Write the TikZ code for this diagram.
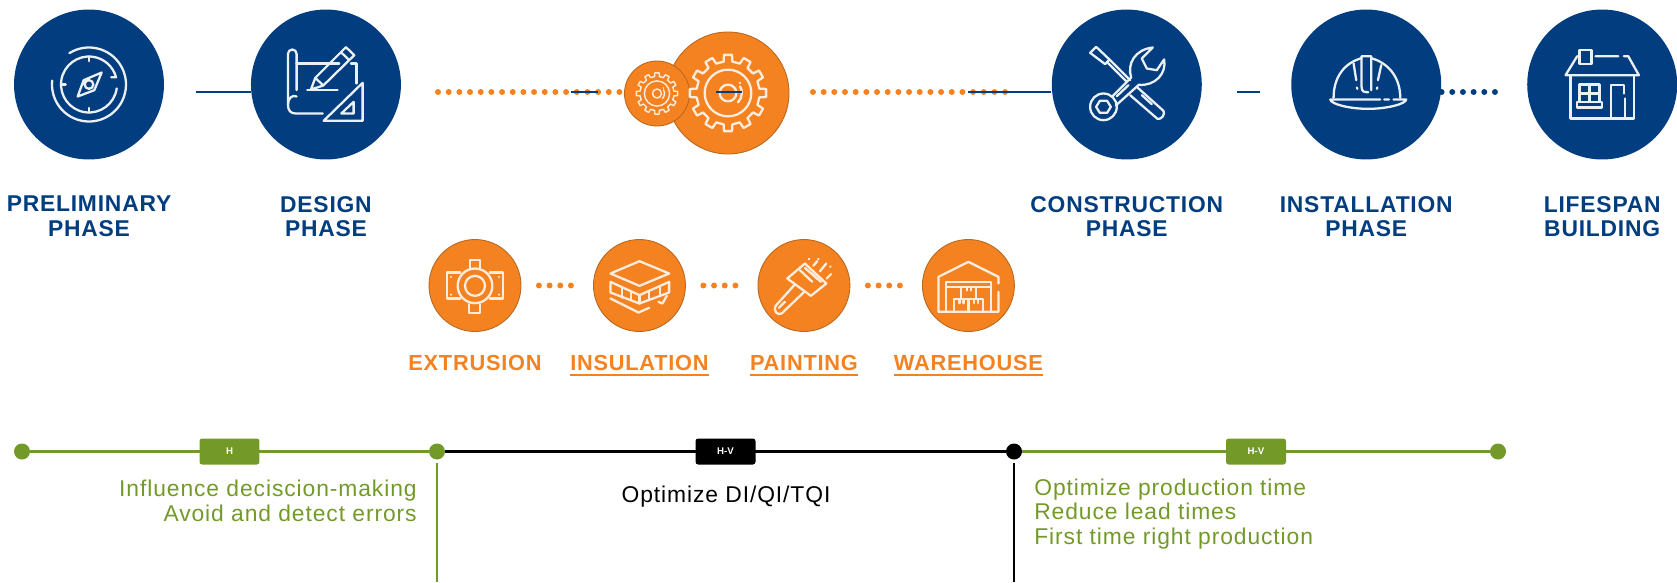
\documentclass[tikz,border=0pt]{standalone}
\usepackage{fontspec}
\setmainfont{Liberation Sans}
\newfontfamily\phasefont[LetterSpace=3.5]{Liberation Sans}
\newfontfamily\bodyfont[LetterSpace=4]{Liberation Sans}
\newcommand{\stageline}[1]{\setbox0=\hbox{#1}\rlap{\rule[-3pt]{\wd0}{1.2pt}}\box0}
\definecolor{navy}{HTML}{023E7F}
\definecolor{burnt}{HTML}{F58220}
\definecolor{burntedge}{HTML}{B8691F}
\definecolor{leaf}{HTML}{739A28}
\tikzstyle{phase} = [circle, minimum size=3cm, inner sep=0, fill=navy]
\tikzstyle{stage} = [circle, minimum size=1.84cm, inner sep=0, fill=burnt, draw=burntedge, line width=0.5pt]
\tikzstyle{phaselabel} = [align=center, text=navy, font=\phasefont\bfseries\fontsize{13}{14}\selectfont]
\tikzstyle{stagelabel} = [text=burnt, text height=9pt, text depth=3pt, inner sep=0, font=\phasefont\bfseries\fontsize{12.4}{14}\selectfont]
\tikzstyle{bluedash} = [navy, line width=1.2pt]
\tikzstyle{dots} = [line width=3.4pt, line cap=round, dash pattern=on 0pt off 0.2135cm]
\tikzstyle{point} = [circle, minimum size=0.32cm, inner sep=0]
\tikzstyle{tagbox} = [rectangle, rounded corners=1.5pt, minimum width=1.2cm, minimum height=0.52cm, inner sep=0, text=white, font=\bfseries\fontsize{5.5}{6}\selectfont]
\tikzstyle{note} = [font=\bodyfont\fontsize{13}{14}\selectfont, inner sep=0]
\tikzstyle{lineW} = [draw=white!92!navy, line width=1.3pt, line join=round, line cap=round]
\tikzstyle{lineC} = [draw=white!85!burnt, line width=1.3pt, line join=round, line cap=round]
\tikzset{
  pics/compass/.style={code={
    \draw[lineW] (238:111) arc[start angle=238, end angle=546, radius=111];
    \draw[lineW] (8:84) arc[start angle=8, end angle=345, radius=84] -- ++(-14,0);
    \draw[lineW] (0,-84) -- (0,-70) (0,84) -- (0,70) (-84,0) -- (-70,0);
    \draw[lineW] (38,-36) -- (-16,-13) -- (-34,36) -- (16,17) -- cycle (0,0) circle[radius=13];
  }},
  pics/blueprint/.style={code={
    \draw[lineW] (-88,17) -- (-88,-92) arc[start angle=0, end angle=-180, radius=13] -- (-114,60) .. controls (-114,80) and (-105,87) .. (-90,87) -- (-10,87);
    \draw[lineW] (-114,60) .. controls (-114,40) and (-100,30) .. (-88,36);
    \draw[lineW] (-88,-63) -- (40,-63) (75,-63) -- (92,-63) -- (92,-3);
    \draw[lineW] (-45,15) -- (-32,-20) -- (60,-112) -- (85,-88) -- (-8,3) -- cycle (-32,-20) -- (-8,3) (45,-97) -- (70,-73);
    \draw[lineW] (-56,17) -- (35,17);
    \draw[lineW] (-7,109) -- (110,109) -- (110,-5) -- cycle (46,87) -- (83,87) -- (83,52) -- cycle;
  }},
  pics/gearicon/.style={code={
    \draw[#1] (-8:95) \foreach \a in {0,30,...,330}{ -- ({\a-8}:95) -- ({\a-6}:115) -- ({\a+6}:115) -- ({\a+8}:95) } -- cycle;
    \draw[#1] (0,0) circle[radius=70] (0,0) circle[radius=25];
    \draw[#1] (30,28) .. controls (44,15) and (44,-10) .. (36,-20) (36,-30) -- (36,-31);
  }},
  pics/toolsicon/.style={code={
    \begin{scope}[shift={(-180,-163)}]
    \draw[lineW] (70,68) -- (88,50) -- (128,88) -- (115,102) -- cycle (120,95) -- (178,153) (128,88) -- (190,150);
    \draw[lineW] (212,172) -- (290,242) .. controls (296,250) and (285,270) .. (272,266) -- (190,195);
    \draw[lineW] (225,195) -- (255,222);
    \draw[lineW] (110,230) circle[radius=40];
    \draw[lineW] (88,230) -- (99,212) -- (121,212) -- (132,230) -- (121,248) -- (99,248) -- cycle;
    \draw[lineW] (135,200) -- (193,142) .. controls (180,100) and (205,58) .. (258,52) -- (225,85) -- (240,115) -- (270,120) -- (292,88) .. controls (300,130) and (265,168) .. (216,164) -- (147,226);
    \draw[lineW] (150,198) -- (185,165);
    \end{scope}
  }},
  pics/helmet/.style={code={
    \begin{scope}[shift={(-180,-163)}]
    \draw[lineW] (82,203) .. controls (82,140) and (115,98) .. (166,84) (195,84) .. controls (245,98) and (282,140) .. (282,203);
    \draw[lineW] (166,170) -- (166,78) -- (195,78) -- (195,180) (166,170) .. controls (166,186) and (175,186) .. (186,186);
    \draw[lineW] (142,100) -- (150,150) (225,105) -- (215,150) (152,172) -- (153,176) (213,172) -- (212,176);
    \draw[lineW] (72,208) -- (222,208) (234,208) -- (248,208) (262,208) -- (300,208) .. controls (298,222) and (240,236) .. (186,236) .. controls (130,236) and (74,222) .. (72,208);
    \end{scope}
  }},
  pics/houseicon/.style={code={
    \begin{scope}[shift={(-180,-163)}]
    \draw[lineW] (112,60) rectangle (148,102);
    \draw[lineW] (105,78) -- (70,135) -- (290,135) -- (258,78) -- (245,78) (160,78) -- (228,78);
    \draw[lineW] (85,135) -- (85,265) -- (275,265) -- (275,135);
    \draw[lineW] (112,163) rectangle (172,215) (142,163) -- (142,215) (112,190) -- (172,190);
    \draw[lineW] (105,215) -- (180,215) -- (180,232) -- (105,232) -- cycle;
    \draw[lineW] (207,265) -- (207,165) -- (245,165) -- (245,190) (248,205) -- (248,265);
    \end{scope}
  }},
  pics/extruder/.style={code={
    \begin{scope}[shift={(-150,-151)}]
    \draw[lineC] (150,152) circle[radius=30] (150,152) circle[radius=52];
    \draw[lineC] (135,98) -- (135,75) -- (165,75) -- (165,98) (133,207) -- (133,233) -- (165,233) -- (165,207);
    \draw[lineC] (106,112) -- (65,112) -- (65,190) -- (106,190) (194,112) -- (235,112) -- (235,190) -- (194,190);
    \draw[lineC] (78,125) -- (78,126) (222,125) -- (222,126) (78,178) -- (78,179) (222,178) -- (222,179);
    \end{scope}
  }},
  pics/panels/.style={code={
    \begin{scope}[shift={(-643,-151)}]
    \draw[lineC] (643,78) -- (732,115) -- (643,152) -- (556,115) -- cycle;
    \draw[lineC] (556,140) -- (643,180) -- (732,140) -- (732,172) -- (643,205) -- (556,172) -- cycle;
    \draw[lineC] (590,156) -- (590,188) (618,168) -- (618,195) (643,180) -- (643,205) (672,167) -- (672,195) (705,153) -- (705,183);
    \draw[lineC] (556,190) -- (640,232) -- (672,218) (700,200) -- (712,205) -- (725,182);
    \end{scope}
  }},
  pics/brush/.style={code={
    \begin{scope}[shift={(-147,-151)}]
    \draw[lineC] (97,130) -- (150,85) -- (214,145) -- (168,182) -- cycle;
    \draw[lineC] (118,150) -- (62,212) .. controls (55,225) and (65,242) .. (80,235) -- (148,170);
    \draw[lineC] (135,105) -- (172,140) (150,98) -- (188,132) (167,112) -- (198,140);
    \draw[lineC] (72,218) -- (90,200);
    \draw[lineC] (175,92) -- (187,78) (195,108) -- (214,85) (215,130) -- (228,117) (162,72) -- (163,71) (190,72) -- (191,71) (226,95) -- (227,94);
    \end{scope}
  }},
  pics/storehouse/.style={code={
    \begin{scope}[shift={(-642,-151)}]
    \draw[lineC] (732,145) -- (732,125) -- (642,80) -- (552,125) -- (552,230) -- (732,230) -- (732,170);
    \draw[lineC] (575,230) -- (575,140) -- (710,140) -- (710,230) (575,155) -- (710,155);
    \draw[lineC] (620,155) rectangle (665,192) (598,192) rectangle (642,230) (642,192) rectangle (685,230);
    \draw[lineC] (637,155) -- (637,166) (649,155) -- (649,166) (615,192) -- (615,204) (627,192) -- (627,204) (659,192) -- (659,204) (671,192) -- (671,204);
    \end{scope}
  }}
}

\begin{document}
\begin{tikzpicture}[x=0.02cm, y=-0.02cm, node distance=4.74cm]
\useasboundingbox (0,0) rectangle (1677,582);

% main phases
\node (prelim) [phase] at (89,84.5) {};
\node (design) [phase, right of=prelim] {};
\node (constr) [phase, right of=design, xshift=11.28cm] {};
\node (install) [phase, right of=constr, node distance=4.79cm] {};
\node (lifespan) [phase, right of=install, node distance=4.72cm] {};
\node (gearB) [circle, minimum size=2.44cm, inner sep=0, fill=burnt, draw=burntedge, line width=0.5pt] at (728,93) {};
\node (gearA) [circle, minimum size=1.3cm, inner sep=0, fill=burnt, draw=burntedge, line width=0.5pt] at (657,93.5) {};

\node (lprelim) [phaselabel, below of=prelim, node distance=2.64cm] {PRELIMINARY\\PHASE};
\node (ldesign) [phaselabel, below of=design, node distance=2.64cm] {DESIGN\\PHASE};
\node (lconstr) [phaselabel, below of=constr, node distance=2.64cm] {CONSTRUCTION\\PHASE};
\node (linstall) [phaselabel, below of=install, node distance=2.64cm] {INSTALLATION\\PHASE};
\node (llifespan) [phaselabel, below of=lifespan, node distance=2.64cm] {LIFESPAN\\BUILDING};

% icons
\pic [scale=1/3] at (prelim) {compass};
\pic [scale=1/3] at (design) {blueprint};
\pic [scale=1/3] at (constr) {toolsicon};
\pic [scale=1/3] at (install) {helmet};
\pic [scale=1/3] at (lifespan) {houseicon};
\pic [scale=1/3] at (gearB) {gearicon={lineC}};
\pic [scale=0.18] at (gearA) {gearicon={lineC, line width=0.8pt}};

% connectors of the top row
\coordinate (a1) at (196,92);
\coordinate (a2) at (438,92);
\coordinate (a3) at (571,92);
\coordinate (a4) at (597.5,92);
\coordinate (a5) at (716,92);
\coordinate (a6) at (742,92);
\coordinate (a7) at (813,92);
\coordinate (a8) at (968,92);
\coordinate (a9) at (1012,92);
\coordinate (a10) at (1237,92);
\coordinate (a11) at (1260,92);
\coordinate (a12) at (1503,92);
\draw [bluedash] (a1) -- (a1 -| design.west);
\draw [dots, burnt] (a2) -- (a2 -| gearA.west);
\draw [bluedash] (a3) -- (a4);
\draw [bluedash] (a5) -- (a6);
\draw [dots, burnt] (a7) -- (a9);
\draw [bluedash] (a8) -- (a8 -| constr.west);
\draw [bluedash] (a10) -- (a11);
\draw [dots, navy] (a12 -| install.east) -- (a12);

% production stages
\node (extr) [stage] at (475,285.5) {};
\node (insul) [stage, right of=extr, node distance=3.29cm] {};
\node (paint) [stage, right of=insul, node distance=3.29cm] {};
\node (ware) [stage, right of=paint, node distance=3.29cm] {};
\pic [scale=1/3] at (extr) {extruder};
\pic [scale=1/3] at (insul) {panels};
\pic [scale=1/3] at (paint) {brush};
\pic [scale=1/3] at (ware) {storehouse};
\node (lextr) [stagelabel, below of=extr, node distance=1.6cm] {EXTRUSION};
\node (linsul) [stagelabel, below of=insul, node distance=1.6cm] {\stageline{INSULATION}};
\node (lpaint) [stagelabel, below of=paint, node distance=1.6cm] {\stageline{PAINTING}};
\node (lware) [stagelabel, below of=ware, node distance=1.6cm] {\stageline{WAREHOUSE}};
\draw [dots, burnt, shorten <=0.35cm, shorten >=0.23cm] (extr.east) -- (insul.west);
\draw [dots, burnt, shorten <=0.35cm, shorten >=0.23cm] (insul.east) -- (paint.west);
\draw [dots, burnt, shorten <=0.35cm, shorten >=0.23cm] (paint.east) -- (ware.west);

% timeline
\node (t1) [point, fill=leaf] at (22,451.5) {};
\node (t2) [point, fill=leaf] at (437,451.5) {};
\node (t3) [point, fill=black] at (1014,451.5) {};
\node (t4) [point, fill=leaf] at (1498,451.5) {};
\coordinate (v2) at (437,582);
\coordinate (v3) at (1014,582);
\draw [leaf, line width=1.7pt] (t1) -- node[tagbox, fill=leaf] (tagh) {H} (t2);
\draw [black, line width=1.5pt] (t2) -- node[tagbox, fill=black] (tagm) {H-V} (t3);
\draw [leaf, line width=1.7pt] (t3) -- node[tagbox, fill=leaf] (tagr) {H-V} (t4);
\draw [leaf, line width=1.3pt, shorten <=0.06cm] (t2.south) -- (v2);
\draw [black, line width=1pt, shorten <=0.06cm] (t3.south) -- (v3);

\node (nl) [note, text=leaf, align=right, anchor=east] at (417,501) {Influence deciscion-making\\Avoid and detect errors};
\node (nm) [note, text=black] at (726,497) {Optimize DI/QI/TQI};
\node (nr) [note, text=leaf, align=left, anchor=west] at (1034,514) {Optimize production time\\Reduce lead times\\First time right production};

\end{tikzpicture}
\end{document}
